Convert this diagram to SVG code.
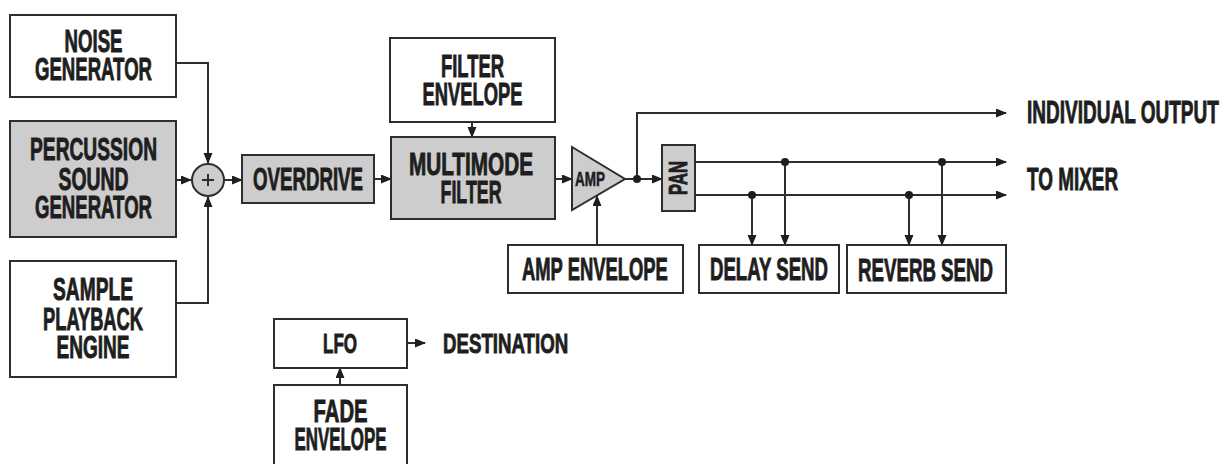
<svg xmlns="http://www.w3.org/2000/svg" width="1224" height="464" viewBox="0 0 1224 464">
<style>
.box{fill:#ffffff;stroke:#2e2e2e;stroke-width:2}
.g{fill:#cdcdcd;stroke:#2e2e2e;stroke-width:2}
.t{font-family:"Liberation Sans",Arial,sans-serif;font-weight:bold;font-size:31px;fill:#1e1e1e;stroke:#1e1e1e;stroke-width:0.9px}
.m{text-anchor:middle}
.w{fill:none;stroke:#2e2e2e;stroke-width:2}
.a{marker-end:url(#ah)}
.dot{fill:#1e1e1e}
</style>
<defs>
<marker id="ah" markerUnits="userSpaceOnUse" markerWidth="11" markerHeight="10" refX="10" refY="4.5" orient="auto">
<path d="M0,0 L11,4.5 L0,9 z" fill="#1e1e1e"/>
</marker>
</defs>
<rect width="1224" height="464" fill="#ffffff"/>
<g id="connectors">
<path class="w a" d="M176,63 H208 V163"/>
<path class="w a" d="M176,303 H208 V197"/>
<path class="w a" d="M176,180 H191"/>
<path class="w a" d="M224,180 H242"/>
<path class="w a" d="M374,179 H391"/>
<path class="w a" d="M472,122 V137"/>
<path class="w a" d="M555,179 H572"/>
<path class="w a" d="M625,179 H662"/>
<path class="w a" d="M637,179 V113 H1006"/>
<path class="w a" d="M695,162 H1006"/>
<path class="w a" d="M695,195 H1006"/>
<path class="w a" d="M752,195 V245"/>
<path class="w a" d="M785,162 V245"/>
<path class="w a" d="M909,195 V245"/>
<path class="w a" d="M942,162 V245"/>
<path class="w a" d="M597,245 V196"/>
<path class="w a" d="M407,343 H425"/>
<path class="w a" d="M340,385 V368"/>
<circle class="dot" cx="637" cy="179" r="4"/>
<circle class="dot" cx="752" cy="195" r="4"/>
<circle class="dot" cx="785" cy="162" r="4"/>
<circle class="dot" cx="909" cy="195" r="4"/>
<circle class="dot" cx="942" cy="162" r="4"/>
</g>
<g id="noise">
<rect class="box" x="10" y="15" width="166" height="82"/>
<text class="t m" transform="translate(93.5,0) scale(0.596,1)"><tspan x="0" y="52" textLength="97.3" lengthAdjust="spacingAndGlyphs">NOISE</tspan><tspan x="0" y="80" textLength="196.3" lengthAdjust="spacingAndGlyphs">GENERATOR</tspan></text>
</g>
<g id="percussion">
<rect class="g" x="10" y="121" width="166" height="116"/>
<text class="t m" transform="translate(93.5,0) scale(0.612,1)"><tspan x="0" y="160" textLength="207.5" lengthAdjust="spacingAndGlyphs">PERCUSSION</tspan><tspan x="0" y="190" textLength="114.4" lengthAdjust="spacingAndGlyphs">SOUND</tspan><tspan x="0" y="218" textLength="191.2" lengthAdjust="spacingAndGlyphs">GENERATOR</tspan></text>
</g>
<g id="sample">
<rect class="box" x="10" y="261" width="166" height="116"/>
<text class="t m" transform="translate(93,0) scale(0.605,1)"><tspan x="0" y="300" textLength="132.2" lengthAdjust="spacingAndGlyphs">SAMPLE</tspan><tspan x="0" y="330" textLength="165.3" lengthAdjust="spacingAndGlyphs">PLAYBACK</tspan><tspan x="0" y="358" textLength="120.7" lengthAdjust="spacingAndGlyphs">ENGINE</tspan></text>
</g>
<g id="sum">
<circle class="g" cx="208" cy="180" r="16"/>
<path class="w" d="M202,180 H214 M208,174 V186"/>
</g>
<g id="overdrive">
<rect class="g" x="242" y="155" width="132" height="48"/>
<text class="t" transform="translate(253,190) scale(0.603,1)" textLength="182.5" lengthAdjust="spacingAndGlyphs">OVERDRIVE</text>
</g>
<g id="filterenv">
<rect class="box" x="390" y="38" width="165" height="84"/>
<text class="t m" transform="translate(472.5,0) scale(0.586,1)"><tspan x="0" y="77" textLength="107.5" lengthAdjust="spacingAndGlyphs">FILTER</tspan><tspan x="0" y="105" textLength="170.6" lengthAdjust="spacingAndGlyphs">ENVELOPE</tspan></text>
</g>
<g id="multimode">
<rect class="g" x="391" y="137" width="164" height="82"/>
<text class="t m" transform="translate(471,0) scale(0.61,1)"><tspan x="0" y="175" textLength="203.3" lengthAdjust="spacingAndGlyphs">MULTIMODE</tspan><tspan x="0" y="203" textLength="100" lengthAdjust="spacingAndGlyphs">FILTER</tspan></text>
</g>
<g id="amp">
<polygon class="g" points="572,147 625,179 572,210"/>
<text class="t" style="font-size:20px;stroke-width:0.6px" transform="translate(575,186) scale(0.675,1)" textLength="44.4" lengthAdjust="spacingAndGlyphs">AMP</text>
</g>
<g id="pan">
<rect class="g" x="662" y="145" width="33" height="66"/>
<text class="t" style="font-size:25px" transform="translate(687,195) rotate(-90) scale(0.644,1)" textLength="52.8" lengthAdjust="spacingAndGlyphs">PAN</text>
</g>
<g id="ampenv">
<rect class="box" x="508" y="245" width="175" height="48"/>
<text class="t" transform="translate(522,280) scale(0.593,1)" textLength="246" lengthAdjust="spacingAndGlyphs">AMP ENVELOPE</text>
</g>
<g id="delay">
<rect class="box" x="699" y="245" width="140" height="48"/>
<text class="t" transform="translate(710,280) scale(0.59,1)" textLength="200" lengthAdjust="spacingAndGlyphs">DELAY SEND</text>
</g>
<g id="reverb">
<rect class="box" x="847" y="245" width="159" height="48"/>
<text class="t" transform="translate(858,281) scale(0.603,1)" textLength="224" lengthAdjust="spacingAndGlyphs">REVERB SEND</text>
</g>
<g id="outputs">
<text class="t" transform="translate(1027,123) scale(0.613,1)" textLength="313" lengthAdjust="spacingAndGlyphs">INDIVIDUAL OUTPUT</text>
<text class="t" transform="translate(1027,190) scale(0.607,1)" textLength="150" lengthAdjust="spacingAndGlyphs">TO MIXER</text>
</g>
<g id="lfo">
<rect class="box" x="274" y="319" width="133" height="49"/>
<text class="t" style="font-size:27px" transform="translate(323,353) scale(0.63,1)" textLength="54" lengthAdjust="spacingAndGlyphs">LFO</text>
</g>
<g id="destination">
<text class="t" style="font-size:28px" transform="translate(443,353) scale(0.659,1)" textLength="190" lengthAdjust="spacingAndGlyphs">DESTINATION</text>
</g>
<g id="fade">
<rect class="box" x="274" y="385" width="133" height="90"/>
<text class="t m" transform="translate(340.5,0) scale(0.59,1)"><tspan x="0" y="422" textLength="91.5" lengthAdjust="spacingAndGlyphs">FADE</tspan><tspan x="0" y="450" textLength="155.9" lengthAdjust="spacingAndGlyphs">ENVELOPE</tspan></text>
</g>
</svg>
